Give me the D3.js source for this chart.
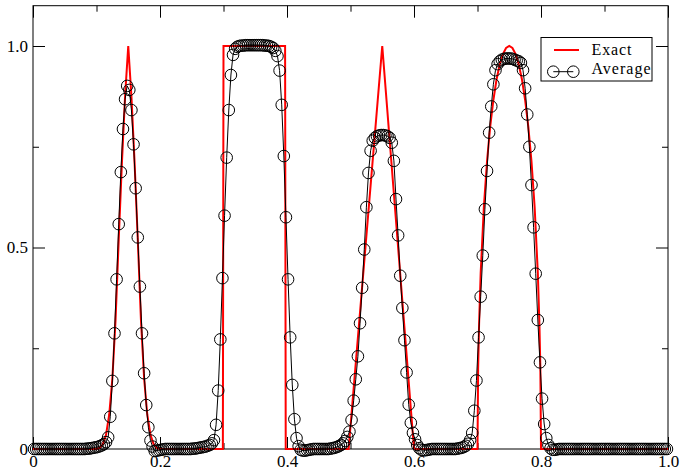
<!DOCTYPE html>
<html>
<head>
<meta charset="utf-8">
<script src="https://cdn.jsdelivr.net/npm/d3@7"></script>
<style>
  body { margin: 0; background: #fff; }
  svg { display: block; font-family: "Liberation Serif", "Times New Roman", serif; }
  svg text { font-family: "Liberation Serif", "Times New Roman", serif; }
</style>
</head>
<body>
<script>
// tick values and labels
var xMajor = [0, 0.2, 0.4, 0.6, 0.8, 1.0];
var xLabels = ["0", "0.2", "0.4", "0.6", "0.8", "1.0"];
var xMinor = [0.1, 0.3, 0.5, 0.7, 0.9];
var yMajor = [0, 0.5, 1.0];
var yLabels = ["0", "0.5", "1.0"];
var yMinor = [0.25, 0.75];

// exact solution, [x, u]
var exact = [
  [0, 0], [0.1, 0], [0.105, 0.003], [0.11, 0.012], [0.115, 0.035], [0.12, 0.085],
  [0.125, 0.175], [0.13, 0.32], [0.135, 0.52], [0.14, 0.71], [0.145, 0.875], [0.15, 1.0],
  [0.155, 0.875], [0.16, 0.71], [0.165, 0.52], [0.17, 0.32], [0.175, 0.175], [0.18, 0.085],
  [0.185, 0.035], [0.19, 0.012], [0.195, 0.003], [0.2, 0],
  [0.299, 0], [0.3, 1.0], [0.397, 1.0], [0.398, 0],
  [0.497, 0], [0.55, 1.0], [0.6, 0],
  [0.7, 0], [0.701, 0.2], [0.7025, 0.31], [0.705, 0.436], [0.71, 0.6], [0.715, 0.714],
  [0.72, 0.8], [0.725, 0.866], [0.73, 0.917], [0.735, 0.954], [0.74, 0.98], [0.745, 0.995],
  [0.75, 1.0], [0.755, 0.995], [0.76, 0.98], [0.765, 0.954], [0.77, 0.917], [0.775, 0.866],
  [0.78, 0.8], [0.785, 0.714], [0.79, 0.6], [0.795, 0.436], [0.7975, 0.31], [0.799, 0.2],
  [0.8, 0], [1.0, 0]
];

// cell averages on 300 uniform cells (cell centres)
var nCells = 300;
var average = [
  0, 0, 0, 0, 0, 0, 0, 0, 0, 0,
  0, 0, 0, 0, 0, 0, 0, 0, 0, 0,
  0, 0, 0, 0, 0, .001, .001, .002, .003, .004,
  .005, .007, .009, .012, .017, .029, .08, .169, .287, .421,
  .558, .687, .794, .868, .901, .891, .841, .756, .647, .525,
  .403, .287, .188, .109, .054, .021, .006, -.005, -.004, -.003,
  -.002, -.001, 0, 0, 0, 0, 0, 0, 0, 0,
  0, 0, 0, 0, 0, .001, .001, .002, .003, .004,
  .005, .006, .008, .01, .014, .022, .06, .145, .272, .424,
  .579, .723, .841, .928, .978, .993, .998, 1.0, 1.001, 1.001,
  1.002, 1.002, 1.002, 1.002, 1.002, 1.002, 1.002, 1.002, 1.002, 1.001,
  1.001, 1.0, .998, .995, .988, .975, .939, .854, .727, .575,
  .421, .277, .159, .074, .027, .007, -.002, -.004, -.004, -.003,
  -.002, -.001, 0, 0, 0, 0, 0, 0, 0, 0,
  .001, .002, .003, .005, .007, .01, .014, .02, .03, .043,
  .072, .12, .173, .23, .312, .40, .495, .60, .685, .74,
  .765, .772, .776, .778, .779, .779, .778, .776, .772, .76,
  .715, .62, .53, .43, .35, .27, .19, .11, .065, .04,
  .024, .01, .002, -.002, -.003, -.003, -.002, -.001, 0, 0,
  0, 0, 0, 0, 0, 0, 0, 0, 0, 0,
  .001, .002, .003, .005, .008, .013, .022, .04, .095, .17,
  .277, .378, .48, .595, .69, .785, .85, .905, .94, .955,
  .962, .966, .968, .969, .969, .969, .968, .966, .964, .962,
  .958, .94, .895, .83, .75, .655, .55, .435, .32, .215,
  .125, .062, .027, .01, .002, -.002, -.002, -.001, 0, 0,
  0, 0, 0, 0, 0, 0, 0, 0, 0, 0,
  0, 0, 0, 0, 0, 0, 0, 0, 0, 0,
  0, 0, 0, 0, 0, 0, 0, 0, 0, 0,
  0, 0, 0, 0, 0, 0, 0, 0, 0, 0,
  0, 0, 0, 0, 0, 0, 0, 0, 0, 0
];
var seriesNames = ["Exact", "Average"];

var W = 682, H = 473;
var margin = {top: 5.7, right: 14, bottom: 24, left: 33};
var serif = "'Liberation Serif', 'Times New Roman', serif";

var svg = d3.select("body").append("svg")
    .attr("width", W)
    .attr("height", H);

var x = d3.scaleLinear().domain([0, 1]).range([margin.left, W - margin.right]);
var y = d3.scaleLinear().domain([0, 1.1]).range([H - margin.bottom, margin.top]);

var fontSize = 17;

// axes: major + minor ticks, all pointing inwards
function styleAxis(g) {
    g.attr("font-family", serif).attr("font-size", fontSize);
    g.select(".domain").remove();
    g.selectAll(".tick line").attr("stroke", "#000").attr("stroke-width", 1);
    g.selectAll(".tick text").attr("fill", "#000");
}

svg.append("g")
    .attr("transform", `translate(0,${y(0)})`)
    .call(d3.axisBottom(x).tickValues(xMajor).tickSize(-12).tickPadding(6)
        .tickFormat((d, i) => xLabels[i]))
    .call(styleAxis);
svg.append("g")
    .attr("transform", `translate(0,${y(0)})`)
    .call(d3.axisBottom(x).tickValues(xMinor).tickSize(-6).tickFormat(""))
    .call(styleAxis);
svg.append("g")
    .attr("transform", `translate(0,${y(1.1)})`)
    .call(d3.axisTop(x).tickValues(xMajor).tickSize(-12).tickFormat(""))
    .call(styleAxis);
svg.append("g")
    .attr("transform", `translate(0,${y(1.1)})`)
    .call(d3.axisTop(x).tickValues(xMinor).tickSize(-6).tickFormat(""))
    .call(styleAxis);

svg.append("g")
    .attr("transform", `translate(${x(0)},0)`)
    .call(d3.axisLeft(y).tickValues(yMajor).tickSize(-12).tickPadding(5)
        .tickFormat((d, i) => yLabels[i]))
    .call(styleAxis);
svg.append("g")
    .attr("transform", `translate(${x(0)},0)`)
    .call(d3.axisLeft(y).tickValues(yMinor).tickSize(-6).tickFormat(""))
    .call(styleAxis);
svg.append("g")
    .attr("transform", `translate(${x(1)},0)`)
    .call(d3.axisRight(y).tickValues(yMajor).tickSize(-12).tickFormat(""))
    .call(styleAxis);
svg.append("g")
    .attr("transform", `translate(${x(1)},0)`)
    .call(d3.axisRight(y).tickValues(yMinor).tickSize(-6).tickFormat(""))
    .call(styleAxis);

// frame
svg.append("rect")
    .attr("x", x(0)).attr("y", y(1.1))
    .attr("width", x(1) - x(0)).attr("height", y(0) - y(1.1))
    .attr("fill", "none").attr("stroke", "#000").attr("stroke-width", 1);

// exact
var line = d3.line().x(d => x(d[0])).y(d => y(d[1]));
svg.append("path")
    .datum(exact)
    .attr("fill", "none")
    .attr("stroke", "#ff0000")
    .attr("stroke-width", 2)
    .attr("stroke-linejoin", "miter")
    .attr("d", line);

// average
var avgPts = average.map((v, i) => [(i + 0.5) / nCells, v]);
svg.append("path")
    .datum(avgPts)
    .attr("fill", "none")
    .attr("stroke", "#000")
    .attr("stroke-width", 1)
    .attr("d", line);
svg.append("g")
    .selectAll("circle")
    .data(avgPts)
    .join("circle")
    .attr("cx", d => x(d[0]))
    .attr("cy", d => y(d[1]))
    .attr("r", 5.8)
    .attr("fill", "none")
    .attr("stroke", "#000")
    .attr("stroke-width", 1);

// legend
var lg = svg.append("g").attr("font-family", serif);
lg.append("rect")
    .attr("x", 541).attr("y", 37.5).attr("width", 111).attr("height", 43.5)
    .attr("fill", "#fff").attr("stroke", "#000").attr("stroke-width", 1);
lg.append("line")
    .attr("x1", 554).attr("x2", 579).attr("y1", 50).attr("y2", 50)
    .attr("stroke", "#ff0000").attr("stroke-width", 2);
lg.append("line")
    .attr("x1", 553.3).attr("x2", 573.3).attr("y1", 71.7).attr("y2", 71.7)
    .attr("stroke", "#000").attr("stroke-width", 1);
[553.3, 573.3].forEach(cx => {
    lg.append("circle")
        .attr("cx", cx).attr("cy", 71.7).attr("r", 5.8)
        .attr("fill", "none").attr("stroke", "#000");
});
lg.selectAll("text")
    .data(seriesNames)
    .join("text")
    .attr("x", 591.5)
    .attr("y", (d, i) => i == 0 ? 55 : 73.5)
    .attr("font-size", 16)
    .attr("textLength", (d, i) => i == 0 ? 40 : 59)
    .text(d => d);
</script>
</body>
</html>
